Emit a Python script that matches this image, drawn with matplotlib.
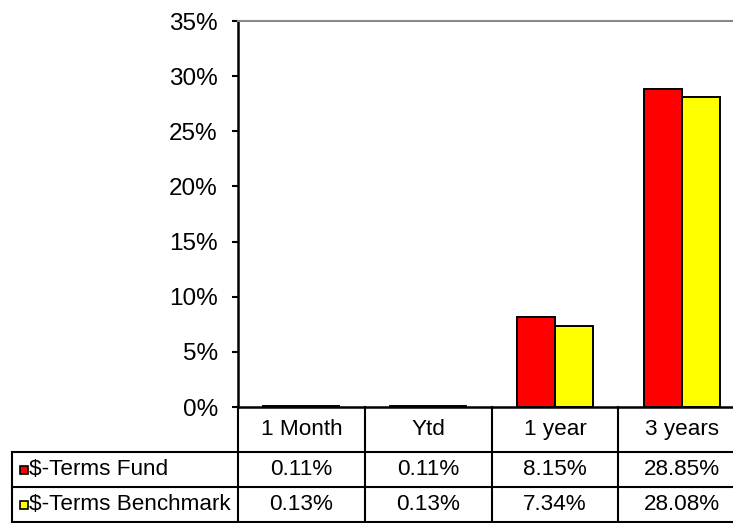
import numpy as np
import matplotlib.pyplot as plt
from matplotlib.patches import Rectangle
from matplotlib.lines import Line2D

plt.rcParams['font.family'] = ['Liberation Sans', 'DejaVu Sans']

# Data
periods = ["1 Month", "Ytd", "1 year", "3 years"]
series = ["$-Terms Fund", "$-Terms Benchmark"]
fund = [0.11, 0.11, 8.15, 28.85]
bench = [0.13, 0.13, 7.34, 28.08]
colors = ["#FF0000", "#FFFF00"]

W, H = 733, 523
fig = plt.figure(figsize=(W / 100, H / 100), dpi=100)

# pixel helpers (origin top-left)
def fx(px):
    return px / W

def fy(py):
    return 1 - py / H

ax_left, ax_right, ax_top, ax_bottom = 238, 745, 21, 407
ax = fig.add_axes([fx(ax_left), fy(ax_bottom), (ax_right - ax_left) / W, (ax_bottom - ax_top) / H])

x = np.arange(len(periods))
w = 0.3
ax.bar(x - w / 2, fund, w, color=colors[0], edgecolor="black", linewidth=1.4)
ax.bar(x + w / 2, bench, w, color=colors[1], edgecolor="black", linewidth=1.4)

fs = 16.2
ax.set_xlim(-0.5, 3.5)
ax.set_ylim(0, 35)
ax.set_yticks(np.arange(0, 36, 5))
ax.set_yticklabels([f"{v}%" for v in range(0, 36, 5)], fontsize=17.5)
ax.tick_params(axis="y", length=4.5, width=1.5, pad=10)
ax.set_xticks([])
for s in ["left", "bottom"]:
    ax.spines[s].set_linewidth(1.8)
ax.spines["top"].set_color("#888888")
ax.spines["top"].set_linewidth(1.5)
ax.spines["right"].set_visible(False)

# data table drawn below the axes
col_w = (ax_right - ax_left) / len(periods)
rows_y = [407, 452, 487, 522]
lc = "black"
lw = 1.5
tbl_left = 12

def hline(y, x0, x1):
    fig.add_artist(Line2D([fx(x0), fx(x1)], [fy(y), fy(y)], color=lc, lw=lw))

def vline(xp, y0, y1):
    fig.add_artist(Line2D([fx(xp), fx(xp)], [fy(y0), fy(y1)], color=lc, lw=lw))

hline(452, tbl_left, W)
hline(487, tbl_left, W)
hline(521.5, tbl_left, W)
vline(tbl_left, 452, 522)
for k in range(len(periods) + 1):
    vline(ax_left + k * col_w, 407, 522)

for k, p in enumerate(periods):
    cx = ax_left + (k + 0.5) * col_w
    fig.text(fx(cx), fy((rows_y[0] + rows_y[1]) / 2), p, ha="center", va="center", fontsize=fs)
    fig.text(fx(cx), fy((rows_y[1] + rows_y[2]) / 2), f"{fund[k]:.2f}%", ha="center", va="center", fontsize=fs)
    fig.text(fx(cx), fy((rows_y[2] + rows_y[3]) / 2), f"{bench[k]:.2f}%", ha="center", va="center", fontsize=fs)

for i, name in enumerate(series):
    cy = (rows_y[i + 1] + rows_y[i + 2]) / 2
    fig.add_artist(Rectangle((fx(20), fy(cy + 4)), 8 / W, 8 / H, facecolor=colors[i],
                             edgecolor="black", lw=1.2, transform=fig.transFigure))
    fig.text(fx(29), fy(cy), name, ha="left", va="center", fontsize=fs)

fig.savefig("out.png", dpi=100)
